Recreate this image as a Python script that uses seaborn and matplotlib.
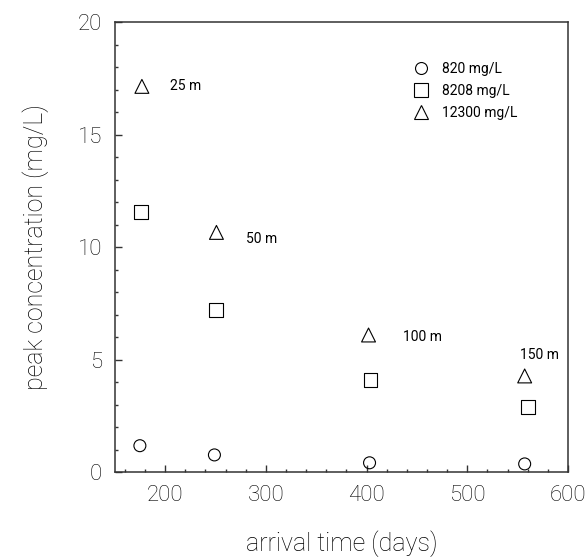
import matplotlib
matplotlib.use("Agg")
import matplotlib.pyplot as plt
import seaborn as sns
import pandas as pd
from matplotlib.ticker import MultipleLocator
from matplotlib.lines import Line2D

# ---- data ----
series_labels = ["820 mg/L", "8208 mg/L", "12300 mg/L"]
x_820 = [175, 249, 403, 557]
y_820 = [1.17, 0.76, 0.41, 0.36]
x_8208 = [176, 251, 404, 560]
y_8208 = [11.57, 7.2, 4.09, 2.89]
x_12300 = [177, 251, 402, 557]
y_12300 = [17.14, 10.65, 6.09, 4.27]
dist_labels = ["25 m", "50 m", "100 m", "150 m"]
dist_x = [220, 296, 456, 572]
dist_y = [17.17, 10.35, 6.0, 5.2]
x_ticks = [200, 300, 400, 500, 600]
y_ticks = [0, 5, 10, 15, 20]

sns.set_style("white")
plt.rcParams['font.family'] = ['Roboto', 'DejaVu Sans']

fig = plt.figure(figsize=(5.87, 5.59), dpi=100)
ax = fig.add_axes([0.1954, 0.1556, 0.7722, 0.805])

frames = [
    pd.DataFrame({"x": x_820, "y": y_820}),
    pd.DataFrame({"x": x_8208, "y": y_8208}),
    pd.DataFrame({"x": x_12300, "y": y_12300}),
]
markers = ["o", "s", "^"]
sizes = [74, 100, 100]
for df, m, s, lab in zip(frames, markers, sizes, series_labels):
    sns.scatterplot(data=df, x="x", y="y", marker=m, s=s, facecolors="none",
                    edgecolor="black", linewidth=0.8, ax=ax, legend=False, zorder=3)

small_font = {"family": ["Roboto", "DejaVu Sans"], "size": 10}
for t, xx, yy in zip(dist_labels, dist_x, dist_y):
    ax.text(xx, yy, t, ha="center", va="center", color="black", fontdict=small_font)

ax.set_xlim(150, 600)
ax.set_ylim(0, 20)
ax.set_xticks(x_ticks)
ax.set_yticks(y_ticks)
ax.xaxis.set_minor_locator(MultipleLocator(20))
ax.yaxis.set_minor_locator(MultipleLocator(1))
ax.tick_params(which="both", direction="in", top=False, right=False,
               bottom=True, left=True, color="#333333", width=1)
ax.tick_params(which="major", length=5, labelsize=16, pad=9, labelcolor="black")
ax.tick_params(which="minor", length=2.5)
for lbl in ax.get_xticklabels() + ax.get_yticklabels():
    lbl.set_fontweight("light")
for sp in ax.spines.values():
    sp.set_color("#333333")
    sp.set_linewidth(1.1)

ax.set_xlabel("arrival time (days)", fontsize=18, fontweight="light", labelpad=18,
              color="black")
ax.set_ylabel("peak concentration (mg/L)", fontsize=18, fontweight="light", labelpad=21,
              color="black")

handles = [Line2D([], [], linestyle="none", marker=m, markersize=ms,
                  markerfacecolor="none", markeredgecolor="black", markeredgewidth=0.8)
           for m, ms in zip(markers, [8.6, 10, 10])]
leg = ax.legend(handles, series_labels, loc="upper left", bbox_to_anchor=(0.63, 0.94),
                frameon=False, prop={"family": ["Roboto"], "size": 10},
                handletextpad=0.9, labelspacing=0.6, handlelength=1.2)
for t in leg.get_texts():
    t.set_color("black")

fig.savefig("out.png", dpi=100)
